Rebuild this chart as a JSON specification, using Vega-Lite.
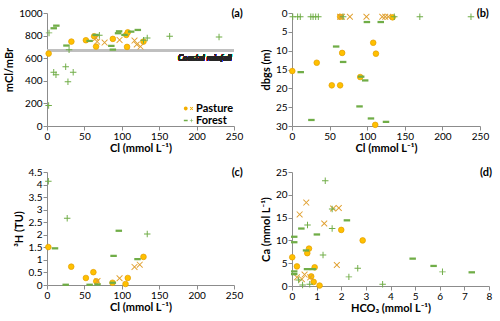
{
  "$schema": "https://vega.github.io/schema/vega-lite/v6.json",
  "padding": {"left": 3, "top": 8, "right": 5, "bottom": 2},
  "background": "white",
  "bounds": "flush",
  "config": {
    "font": "Lato",
    "numberFormat": ".1~f",
    "view": {"stroke": null},
    "axis": {"grid": false, "domainColor": "#8c8c8c", "tickColor": "#8c8c8c", "labelFontSize": 10, "labelColor": "#000000", "titleFontSize": 11, "titleFontWeight": "bold", "titleColor": "#000000", "tickSize": 4, "labelPadding": 1, "labelOverlap": false, "labelFlush": false, "labelBound": false, "tickCount": 20},
    "axisX": {"titlePadding": 1},
    "axisY": {"titlePadding": 4},
    "title": {"fontSize": 11, "fontWeight": "bold", "anchor": "end", "color": "#000000", "offset": -11, "baseline": "top"}
  },
  "datasets": {
    "a": [
      {"x": 2.2, "y": 641, "group": "Pasture", "marker": "circle"},
      {"x": 32.6, "y": 747, "group": "Pasture", "marker": "circle"},
      {"x": 52, "y": 759, "group": "Pasture", "marker": "circle"},
      {"x": 63, "y": 794, "group": "Pasture", "marker": "circle"},
      {"x": 65.6, "y": 703, "group": "Pasture", "marker": "circle"},
      {"x": 88, "y": 771, "group": "Pasture", "marker": "circle"},
      {"x": 106, "y": 806, "group": "Pasture", "marker": "circle"},
      {"x": 108, "y": 829, "group": "Pasture", "marker": "circle"},
      {"x": 107, "y": 700, "group": "Pasture", "marker": "circle"},
      {"x": 129, "y": 747, "group": "Pasture", "marker": "circle"},
      {"x": 65.6, "y": 779, "group": "Pasture", "marker": "x"},
      {"x": 67, "y": 747, "group": "Pasture", "marker": "x"},
      {"x": 77, "y": 738, "group": "Pasture", "marker": "x"},
      {"x": 97, "y": 762, "group": "Pasture", "marker": "x"},
      {"x": 117, "y": 756, "group": "Pasture", "marker": "x"},
      {"x": 120, "y": 721, "group": "Pasture", "marker": "x"},
      {"x": 125, "y": 703, "group": "Pasture", "marker": "x"},
      {"x": 9, "y": 865, "group": "Forest", "marker": "dash"},
      {"x": 12.5, "y": 888, "group": "Forest", "marker": "dash"},
      {"x": 26, "y": 712, "group": "Forest", "marker": "dash"},
      {"x": 57, "y": 753, "group": "Forest", "marker": "dash"},
      {"x": 65, "y": 806, "group": "Forest", "marker": "dash"},
      {"x": 86, "y": 709, "group": "Forest", "marker": "dash"},
      {"x": 88, "y": 676, "group": "Forest", "marker": "dash"},
      {"x": 95, "y": 821, "group": "Forest", "marker": "dash"},
      {"x": 96.4, "y": 838, "group": "Forest", "marker": "dash"},
      {"x": 103.6, "y": 806, "group": "Forest", "marker": "dash"},
      {"x": 112.5, "y": 835, "group": "Forest", "marker": "dash"},
      {"x": 121.4, "y": 850, "group": "Forest", "marker": "dash"},
      {"x": 2.7, "y": 824, "group": "Forest", "marker": "plus"},
      {"x": 2.2, "y": 182, "group": "Forest", "marker": "plus"},
      {"x": 9, "y": 476, "group": "Forest", "marker": "plus"},
      {"x": 12, "y": 453, "group": "Forest", "marker": "plus"},
      {"x": 25, "y": 524, "group": "Forest", "marker": "plus"},
      {"x": 28, "y": 391, "group": "Forest", "marker": "plus"},
      {"x": 29.5, "y": 674, "group": "Forest", "marker": "plus"},
      {"x": 35, "y": 476, "group": "Forest", "marker": "plus"},
      {"x": 70, "y": 803, "group": "Forest", "marker": "plus"},
      {"x": 129, "y": 759, "group": "Forest", "marker": "plus"},
      {"x": 134, "y": 779, "group": "Forest", "marker": "plus"},
      {"x": 164, "y": 794, "group": "Forest", "marker": "plus"},
      {"x": 230, "y": 788, "group": "Forest", "marker": "plus"}
    ],
    "b": [
      {"x": 0.4, "y": 15.4, "group": "Pasture", "marker": "circle"},
      {"x": 32.9, "y": 13.2, "group": "Pasture", "marker": "circle"},
      {"x": 52.9, "y": 19.2, "group": "Pasture", "marker": "circle"},
      {"x": 64, "y": 19.2, "group": "Pasture", "marker": "circle"},
      {"x": 66.7, "y": 10.6, "group": "Pasture", "marker": "circle"},
      {"x": 90.7, "y": 17, "group": "Pasture", "marker": "circle"},
      {"x": 108, "y": 7.9, "group": "Pasture", "marker": "circle"},
      {"x": 111.6, "y": 10.8, "group": "Pasture", "marker": "circle"},
      {"x": 110.7, "y": 29.7, "group": "Pasture", "marker": "circle"},
      {"x": 133.8, "y": 1.15, "group": "Pasture", "marker": "circle"},
      {"x": 64, "y": 1, "group": "Pasture", "marker": "circle"},
      {"x": 64, "y": 1, "group": "Pasture", "marker": "x"},
      {"x": 66.5, "y": 1, "group": "Pasture", "marker": "x"},
      {"x": 77, "y": 1, "group": "Pasture", "marker": "x"},
      {"x": 99, "y": 1, "group": "Pasture", "marker": "x"},
      {"x": 120, "y": 1, "group": "Pasture", "marker": "x"},
      {"x": 124, "y": 1, "group": "Pasture", "marker": "x"},
      {"x": 128, "y": 1, "group": "Pasture", "marker": "x"},
      {"x": 11.6, "y": 15.7, "group": "Forest", "marker": "dash"},
      {"x": 58.7, "y": 8.9, "group": "Forest", "marker": "dash"},
      {"x": 68, "y": 13, "group": "Forest", "marker": "dash"},
      {"x": 92, "y": 16.9, "group": "Forest", "marker": "dash"},
      {"x": 97.3, "y": 17.9, "group": "Forest", "marker": "dash"},
      {"x": 89.8, "y": 24.8, "group": "Forest", "marker": "dash"},
      {"x": 105, "y": 28, "group": "Forest", "marker": "dash"},
      {"x": 125, "y": 28.9, "group": "Forest", "marker": "dash"},
      {"x": 25.8, "y": 28.4, "group": "Forest", "marker": "dash"},
      {"x": 99.6, "y": 2.4, "group": "Forest", "marker": "dash"},
      {"x": 118, "y": 2.4, "group": "Forest", "marker": "dash"},
      {"x": 1, "y": 1, "group": "Forest", "marker": "plus"},
      {"x": 7.5, "y": 1, "group": "Forest", "marker": "plus"},
      {"x": 11, "y": 1, "group": "Forest", "marker": "plus"},
      {"x": 25, "y": 1, "group": "Forest", "marker": "plus"},
      {"x": 28, "y": 1, "group": "Forest", "marker": "plus"},
      {"x": 31.5, "y": 1, "group": "Forest", "marker": "plus"},
      {"x": 35, "y": 1, "group": "Forest", "marker": "plus"},
      {"x": 68, "y": 1, "group": "Forest", "marker": "plus"},
      {"x": 136, "y": 1, "group": "Forest", "marker": "plus"},
      {"x": 170, "y": 1, "group": "Forest", "marker": "plus"},
      {"x": 238, "y": 1, "group": "Forest", "marker": "plus"}
    ],
    "c": [
      {"x": 1.8, "y": 1.51, "group": "Pasture", "marker": "circle"},
      {"x": 32.4, "y": 0.73, "group": "Pasture", "marker": "circle"},
      {"x": 52, "y": 0.28, "group": "Pasture", "marker": "circle"},
      {"x": 62, "y": 0.51, "group": "Pasture", "marker": "circle"},
      {"x": 65.8, "y": 0.15, "group": "Pasture", "marker": "circle"},
      {"x": 87.6, "y": 0.09, "group": "Pasture", "marker": "circle"},
      {"x": 105, "y": 0.04, "group": "Pasture", "marker": "circle"},
      {"x": 108, "y": 0.28, "group": "Pasture", "marker": "circle"},
      {"x": 129, "y": 1.12, "group": "Pasture", "marker": "circle"},
      {"x": 67.5, "y": 0.16, "group": "Pasture", "marker": "x"},
      {"x": 97, "y": 0.27, "group": "Pasture", "marker": "x"},
      {"x": 117, "y": 0.72, "group": "Pasture", "marker": "x"},
      {"x": 124, "y": 0.81, "group": "Pasture", "marker": "x"},
      {"x": 10.7, "y": 1.46, "group": "Forest", "marker": "dash"},
      {"x": 25, "y": 0.01, "group": "Forest", "marker": "dash"},
      {"x": 57, "y": 0.01, "group": "Forest", "marker": "dash"},
      {"x": 67.5, "y": 0.02, "group": "Forest", "marker": "dash"},
      {"x": 89, "y": 1.16, "group": "Forest", "marker": "dash"},
      {"x": 96, "y": 2.16, "group": "Forest", "marker": "dash"},
      {"x": 121, "y": 1.03, "group": "Forest", "marker": "dash"},
      {"x": 88, "y": 0.09, "group": "Forest", "marker": "dash"},
      {"x": 1.8, "y": 4.13, "group": "Forest", "marker": "plus"},
      {"x": 27, "y": 2.66, "group": "Forest", "marker": "plus"},
      {"x": 134, "y": 2.03, "group": "Forest", "marker": "plus"}
    ],
    "d": [
      {"x": 0.01, "y": 6.3, "group": "Pasture", "marker": "circle"},
      {"x": 0.2, "y": 4.3, "group": "Pasture", "marker": "circle"},
      {"x": 0.62, "y": 7.2, "group": "Pasture", "marker": "circle"},
      {"x": 0.69, "y": 8.2, "group": "Pasture", "marker": "circle"},
      {"x": 0.92, "y": 4.1, "group": "Pasture", "marker": "circle"},
      {"x": 0.78, "y": 2.1, "group": "Pasture", "marker": "circle"},
      {"x": 0.88, "y": 0.9, "group": "Pasture", "marker": "circle"},
      {"x": 1.12, "y": 0.1, "group": "Pasture", "marker": "circle"},
      {"x": 2.0, "y": 12.3, "group": "Pasture", "marker": "circle"},
      {"x": 2.87, "y": 10, "group": "Pasture", "marker": "circle"},
      {"x": 0.31, "y": 15.7, "group": "Pasture", "marker": "x"},
      {"x": 0.58, "y": 18.3, "group": "Pasture", "marker": "x"},
      {"x": 1.31, "y": 13.7, "group": "Pasture", "marker": "x"},
      {"x": 1.67, "y": 17, "group": "Pasture", "marker": "x"},
      {"x": 1.9, "y": 17.1, "group": "Pasture", "marker": "x"},
      {"x": 1.82, "y": 4.6, "group": "Pasture", "marker": "x"},
      {"x": 0.2, "y": 1.9, "group": "Pasture", "marker": "x"},
      {"x": 0.4, "y": 1.5, "group": "Pasture", "marker": "x"},
      {"x": 0.51, "y": 2.5, "group": "Pasture", "marker": "x"},
      {"x": 0.74, "y": 1.9, "group": "Pasture", "marker": "x"},
      {"x": 0.09, "y": 10.8, "group": "Forest", "marker": "dash"},
      {"x": 0.09, "y": 9.6, "group": "Forest", "marker": "dash"},
      {"x": 0.09, "y": 3.2, "group": "Forest", "marker": "dash"},
      {"x": 0.09, "y": 2.6, "group": "Forest", "marker": "dash"},
      {"x": 0.38, "y": 12.6, "group": "Forest", "marker": "dash"},
      {"x": 0.57, "y": 7.8, "group": "Forest", "marker": "dash"},
      {"x": 0.61, "y": 3.7, "group": "Forest", "marker": "dash"},
      {"x": 0.85, "y": 3.7, "group": "Forest", "marker": "dash"},
      {"x": 1.01, "y": 11.3, "group": "Forest", "marker": "dash"},
      {"x": 2.23, "y": 14.4, "group": "Forest", "marker": "dash"},
      {"x": 4.9, "y": 6, "group": "Forest", "marker": "dash"},
      {"x": 5.75, "y": 4.4, "group": "Forest", "marker": "dash"},
      {"x": 7.3, "y": 3, "group": "Forest", "marker": "dash"},
      {"x": 1.35, "y": 23.1, "group": "Forest", "marker": "plus"},
      {"x": 0.63, "y": 13.4, "group": "Forest", "marker": "plus"},
      {"x": 1.63, "y": 16.9, "group": "Forest", "marker": "plus"},
      {"x": 1.63, "y": 12.6, "group": "Forest", "marker": "plus"},
      {"x": 1.26, "y": 6.8, "group": "Forest", "marker": "plus"},
      {"x": 2.67, "y": 3.9, "group": "Forest", "marker": "plus"},
      {"x": 2.31, "y": 2, "group": "Forest", "marker": "plus"},
      {"x": 3.68, "y": 0.4, "group": "Forest", "marker": "plus"},
      {"x": 6.11, "y": 3.1, "group": "Forest", "marker": "plus"},
      {"x": 0.43, "y": 0.2, "group": "Forest", "marker": "plus"},
      {"x": 0.72, "y": 0.4, "group": "Forest", "marker": "plus"},
      {"x": 0.27, "y": 1.3, "group": "Forest", "marker": "plus"}
    ]
  },
  "columns": 2,
  "spacing": {"row": 46, "column": 58},
  "resolve": {"scale": {"color": "independent", "shape": "independent", "fill": "independent"}},
  "concat": [
    {
      "width": 187, "height": 113,
      "data": {"name": "a"},
      "title": {"text": "(a)"},
      "resolve": {"scale": {"shape": "independent", "fill": "independent"}},
      "layer": [
        {
          "mark": {"type": "rule", "color": "#BFBFBF", "strokeWidth": 1.5},
          "encoding": {"y": {"datum": 668, "type": "quantitative", "scale": {"domain": [0, 1000], "nice": false}}}
        },
        {
          "mark": {"type": "text", "text": "Coastal rainfall", "align": "right", "baseline": "top", "dy": 3, "fontStyle": "italic", "fontWeight": "bold", "fontSize": 8.5, "color": "#262626"},
          "encoding": {"x": {"datum": 247, "type": "quantitative"}, "y": {"datum": 668, "type": "quantitative"}}
        },
        {
          "transform": [{"filter": "datum.marker === 'circle'"}],
          "mark": {"type": "point", "shape": "circle", "filled": true, "fill": "#FFC000", "stroke": "#E39E00", "strokeWidth": 0.7, "size": 32, "opacity": 1},
          "encoding": {
            "x": {"field": "x", "type": "quantitative", "scale": {"domain": [0, 250], "nice": false}, "axis": {"values": [0, 50, 100, 150, 200, 250], "tickCount": 20, "format": "d", "title": "Cl (mmol L⁻¹)", "labelOverlap": false}},
            "y": {"field": "y", "type": "quantitative", "scale": {"domain": [0, 1000], "nice": false}, "axis": {"values": [0, 200, 400, 600, 800, 1000], "tickCount": 20, "format": "d", "title": "mCl/mBr", "labelOverlap": false}}
          }
        },
        {
          "transform": [{"filter": "datum.marker !== 'circle'"}],
          "mark": {"type": "point", "filled": true, "size": 42, "opacity": 1},
          "encoding": {
            "x": {"field": "x", "type": "quantitative"},
            "y": {"field": "y", "type": "quantitative"},
            "shape": {"field": "marker", "type": "nominal", "scale": {"domain": ["x", "dash", "plus"], "range": ["M-1,-0.8L-0.8,-1L1,0.8L0.8,1Z M0.8,-1L1,-0.8L-0.8,1L-1,0.8Z", "M-1,-0.35H1V0.35H-1Z", "M-1,-0.15H-0.15V-1H0.15V-0.15H1V0.15H0.15V1H-0.15V0.15H-1Z"]}, "legend": null},
            "color": {"field": "group", "type": "nominal", "scale": {"domain": ["Pasture", "Forest"], "range": ["#E0A030", "#70AD47"]}, "legend": null}
          }
        },
        {
          "transform": [{"filter": "datum.x < 0"}],
          "mark": {"type": "point", "filled": true, "opacity": 1},
          "encoding": {
            "x": {"field": "x", "type": "quantitative"},
            "y": {"field": "y", "type": "quantitative"},
            "shape": {"field": "group", "type": "nominal", "scale": {"domain": ["Pasture", "Forest"], "range": ["M-0.85,0A0.35,0.35 0 1,0 -0.15,0A0.35,0.35 0 1,0 -0.85,0Z M0.25,-0.2L0.35,-0.3L0.85,0.2L0.75,0.3Z M0.75,-0.3L0.85,-0.2L0.35,0.3L0.25,0.2Z", "M-0.85,-0.12H-0.15V0.12H-0.85Z M0.25,-0.05H0.5V-0.3H0.6V-0.05H0.85V0.05H0.6V0.3H0.5V0.05H0.25Z"]},
              "legend": {"title": null, "orient": "bottom-right", "offset": 0, "labelFontSize": 11, "labelFontWeight": "bold", "labelColor": "#000000", "symbolSize": 121, "rowPadding": 0, "labelOffset": 1}},
            "fill": {"field": "group", "type": "nominal", "scale": {"domain": ["Pasture", "Forest"], "range": ["#F2AE00", "#70AD47"]},
              "legend": {"title": null, "orient": "bottom-right", "offset": 0, "labelFontSize": 11, "labelFontWeight": "bold", "labelColor": "#000000", "symbolSize": 121, "rowPadding": 0, "labelOffset": 1}}
          }
        }
      ]
    },
    {
      "width": 188, "height": 113,
      "data": {"name": "b"},
      "title": {"text": "(b)"},
      "layer": [
        {
          "transform": [{"filter": "datum.marker === 'circle'"}],
          "mark": {"type": "point", "shape": "circle", "filled": true, "fill": "#FFC000", "stroke": "#E39E00", "strokeWidth": 0.7, "size": 32, "opacity": 1},
          "encoding": {
            "x": {"field": "x", "type": "quantitative", "scale": {"domain": [0, 250], "nice": false}, "axis": {"values": [0, 50, 100, 150, 200, 250], "tickCount": 20, "format": "d", "title": "Cl (mmol L⁻¹)", "labelOverlap": false}},
            "y": {"field": "y", "type": "quantitative", "scale": {"domain": [0, 30], "nice": false, "reverse": true}, "axis": {"values": [0, 5, 10, 15, 20, 25, 30], "tickCount": 20, "format": "d", "title": "dbgs (m)", "labelOverlap": false}}
          }
        },
        {
          "transform": [{"filter": "datum.marker !== 'circle'"}],
          "mark": {"type": "point", "filled": true, "size": 42, "opacity": 1},
          "encoding": {
            "x": {"field": "x", "type": "quantitative"},
            "y": {"field": "y", "type": "quantitative"},
            "shape": {"field": "marker", "type": "nominal", "scale": {"domain": ["x", "dash", "plus"], "range": ["M-1,-0.8L-0.8,-1L1,0.8L0.8,1Z M0.8,-1L1,-0.8L-0.8,1L-1,0.8Z", "M-1,-0.35H1V0.35H-1Z", "M-1,-0.15H-0.15V-1H0.15V-0.15H1V0.15H0.15V1H-0.15V0.15H-1Z"]}, "legend": null},
            "color": {"field": "group", "type": "nominal", "scale": {"domain": ["Pasture", "Forest"], "range": ["#E0A030", "#70AD47"]}, "legend": null}
          }
        }
      ]
    },
    {
      "width": 187, "height": 113,
      "data": {"name": "c"},
      "title": {"text": "(c)"},
      "layer": [
        {
          "transform": [{"filter": "datum.marker === 'circle'"}],
          "mark": {"type": "point", "shape": "circle", "filled": true, "fill": "#FFC000", "stroke": "#E39E00", "strokeWidth": 0.7, "size": 32, "opacity": 1},
          "encoding": {
            "x": {"field": "x", "type": "quantitative", "scale": {"domain": [0, 250], "nice": false}, "axis": {"values": [0, 50, 100, 150, 200, 250], "tickCount": 20, "format": "d", "title": "Cl (mmol L⁻¹)", "labelOverlap": false}},
            "y": {"field": "y", "type": "quantitative", "scale": {"domain": [0, 4.5], "nice": false}, "axis": {"values": [0, 0.5, 1, 1.5, 2, 2.5, 3, 3.5, 4, 4.5], "tickCount": 20, "format": ".1~f", "title": "³H (TU)", "labelOverlap": false}}
          }
        },
        {
          "transform": [{"filter": "datum.marker !== 'circle'"}],
          "mark": {"type": "point", "filled": true, "size": 42, "opacity": 1},
          "encoding": {
            "x": {"field": "x", "type": "quantitative"},
            "y": {"field": "y", "type": "quantitative"},
            "shape": {"field": "marker", "type": "nominal", "scale": {"domain": ["x", "dash", "plus"], "range": ["M-1,-0.8L-0.8,-1L1,0.8L0.8,1Z M0.8,-1L1,-0.8L-0.8,1L-1,0.8Z", "M-1,-0.35H1V0.35H-1Z", "M-1,-0.15H-0.15V-1H0.15V-0.15H1V0.15H0.15V1H-0.15V0.15H-1Z"]}, "legend": null},
            "color": {"field": "group", "type": "nominal", "scale": {"domain": ["Pasture", "Forest"], "range": ["#E0A030", "#70AD47"]}, "legend": null}
          }
        }
      ]
    },
    {
      "width": 197, "height": 114,
      "data": {"name": "d"},
      "title": {"text": "(d)"},
      "layer": [
        {
          "transform": [{"filter": "datum.marker === 'circle'"}],
          "mark": {"type": "point", "shape": "circle", "filled": true, "fill": "#FFC000", "stroke": "#E39E00", "strokeWidth": 0.7, "size": 32, "opacity": 1},
          "encoding": {
            "x": {"field": "x", "type": "quantitative", "scale": {"domain": [0, 8], "nice": false}, "axis": {"values": [0, 1, 2, 3, 4, 5, 6, 7, 8], "tickCount": 20, "format": "d", "title": "HCO₃ (mmol L⁻¹)", "labelOverlap": false}},
            "y": {"field": "y", "type": "quantitative", "scale": {"domain": [0, 25], "nice": false}, "axis": {"values": [0, 5, 10, 15, 20, 25], "tickCount": 20, "format": "d", "title": "Ca (mmol L⁻¹)", "labelOverlap": false}}
          }
        },
        {
          "transform": [{"filter": "datum.marker !== 'circle'"}],
          "mark": {"type": "point", "filled": true, "size": 42, "opacity": 1},
          "encoding": {
            "x": {"field": "x", "type": "quantitative"},
            "y": {"field": "y", "type": "quantitative"},
            "shape": {"field": "marker", "type": "nominal", "scale": {"domain": ["x", "dash", "plus"], "range": ["M-1,-0.8L-0.8,-1L1,0.8L0.8,1Z M0.8,-1L1,-0.8L-0.8,1L-1,0.8Z", "M-1,-0.35H1V0.35H-1Z", "M-1,-0.15H-0.15V-1H0.15V-0.15H1V0.15H0.15V1H-0.15V0.15H-1Z"]}, "legend": null},
            "color": {"field": "group", "type": "nominal", "scale": {"domain": ["Pasture", "Forest"], "range": ["#E0A030", "#70AD47"]}, "legend": null}
          }
        }
      ]
    }
  ]
}
